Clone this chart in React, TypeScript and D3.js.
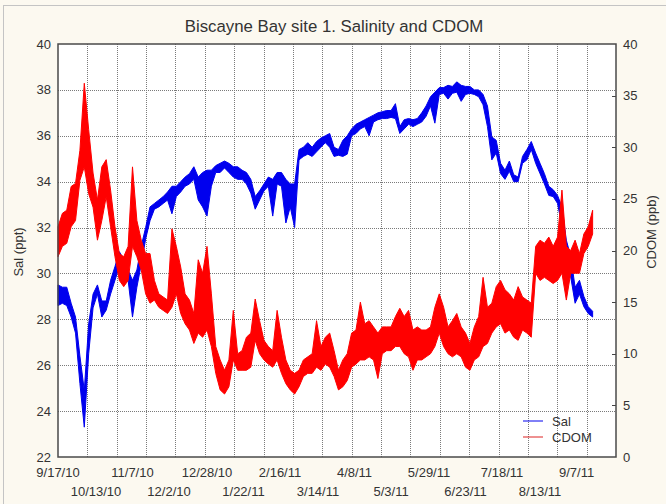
import React from 'react';
import * as d3 from 'd3';

const TITLE = 'Biscayne Bay site 1. Salinity and CDOM';
const LEFT_LABEL = 'Sal (ppt)';
const RIGHT_LABEL = 'CDOM (ppb)';
const SERIES_NAMES = ['Sal', 'CDOM'];
const X_SPAN_DAYS = 382;
const X_GRID_DIVS = 19;

const xTickLabels = [
  '9/17/10', '10/13/10', '11/7/10', '12/2/10', '12/28/10', '1/22/11', '2/16/11', '3/14/11',
  '4/8/11', '5/3/11', '5/29/11', '6/23/11', '7/18/11', '8/13/11', '9/7/11',
];
const salTicks = [22, 24, 26, 28, 30, 32, 34, 36, 38, 40];
const cdomTicks = [0, 5, 10, 15, 20, 25, 30, 35, 40];

// sample days after 9/17/10 (every 3 days)
const sampleDays = d3.range(0, 367, 3);

const salLo = [
  28.6, 28.7, 28.6, 28.1, 27.4, 25.2, 23.3, 26.5, 28.5, 29.1,
  28.1, 28.4, 29.1, 29.7, 30.3, 30.0, 29.7, 28.1, 29.4, 30.4,
  31.5, 32.3, 32.8, 32.9, 33.05, 33.2, 32.6, 33.35, 33.55, 33.8,
  33.9, 34.1, 33.2, 32.9, 32.5, 33.8, 34.4, 34.4, 34.6, 34.4,
  34.2, 34.1, 34.1, 33.9, 33.5, 32.8, 33.2, 33.6, 33.8, 32.5,
  33.9, 33.8, 32.2, 32.9, 32.0, 34.95, 35.1, 35.2, 35.1, 35.3,
  35.5, 35.7, 35.5, 35.1, 35.15, 35.1, 35.2, 36.0, 36.1, 36.3,
  36.4, 36.0, 36.6, 36.7, 36.75, 36.75, 36.8, 36.75, 36.1, 36.3,
  36.5, 36.4, 36.5, 36.6, 36.85, 37.3, 36.55, 37.8, 37.85, 37.6,
  37.85, 37.9, 37.5, 37.8, 37.85, 37.8, 37.7, 37.35, 36.4, 34.95,
  35.25, 34.35, 34.1, 34.45, 34.0, 34.0, 34.8, 34.95, 35.4, 34.8,
  34.35, 33.9, 33.4, 33.35, 33.05, 32.05, 30.3, 29.85, 28.7, 29.1,
  28.55, 28.25, 28.1,
];
const salHi = [
  29.5, 29.4, 29.4, 28.7, 28.1, 26.4, 24.9, 27.8, 29.1, 29.5,
  28.8, 28.8, 29.7, 30.3, 30.95, 30.6, 30.15, 29.7, 30.15, 31.2,
  32.0, 32.9, 33.05, 33.2, 33.35, 33.55, 33.8, 33.8, 34.0, 34.2,
  34.35, 34.65, 34.2, 34.4, 34.5, 34.5, 34.7, 34.8, 34.9, 34.8,
  34.65, 34.65, 34.5, 34.4, 34.1, 33.35, 33.6, 33.9, 34.2, 34.1,
  34.4, 34.4, 34.1, 33.9, 33.9, 35.4, 35.5, 35.7, 35.5, 35.75,
  35.9, 36.0, 36.1, 35.5, 35.4, 35.8, 36.0, 36.3, 36.5, 36.6,
  36.7, 36.8, 36.9, 37.0, 37.05, 37.1, 37.1, 37.4, 36.4, 36.7,
  36.75, 36.7, 36.75, 37.0, 37.3, 37.7, 37.9, 38.1, 38.1, 38.2,
  38.15, 38.35, 38.2, 38.15, 38.15, 38.0, 38.0, 37.8, 37.3, 35.95,
  35.8, 34.8, 34.5, 34.9, 34.3, 34.2, 35.1, 35.4, 35.75, 35.25,
  34.8, 34.35, 33.8, 33.65, 33.4, 32.9, 31.45, 30.75, 29.4, 29.7,
  29.0, 28.55, 28.35,
];
const cdomLo = [
  19.4, 20.4, 20.7, 22.3, 22.9, 26.8, 28.1, 25.5, 24.2, 21.0,
  22.9, 25.2, 22.3, 19.4, 17.1, 16.5, 17.1, 20.4, 19.4, 18.1,
  15.8, 14.9, 15.2, 14.5, 14.2, 13.9, 14.5, 15.8, 13.9, 12.9,
  12.3, 11.0, 12.0, 11.6, 12.3, 10.7, 8.1, 6.5, 6.1, 6.8,
  9.4, 8.4, 8.4, 8.4, 8.7, 11.3, 10.0, 9.4, 9.0, 8.7,
  9.4, 8.1, 7.1, 6.5, 6.1, 6.8, 7.8, 8.1, 8.1, 8.7,
  8.4, 9.0, 8.7, 7.8, 6.5, 6.8, 7.4, 8.7, 9.0, 9.4,
  9.4, 9.7, 9.4, 7.6, 10.0, 10.3, 10.3, 10.7, 10.7, 10.0,
  9.7, 8.4, 9.4, 9.4, 9.7, 10.0, 10.7, 12.0, 10.7, 10.0,
  9.7, 10.0, 9.7, 8.7, 8.4, 9.4, 9.7, 10.7, 11.0, 12.0,
  12.6, 12.9, 12.0, 12.3, 11.6, 11.3, 12.3, 12.0, 11.6, 17.8,
  17.1, 17.4, 17.1, 16.8, 17.1, 17.8, 15.2, 17.8, 17.8, 17.8,
  19.7, 20.4, 21.6,
];
const cdomHi = [
  22.3, 23.6, 23.9, 26.2, 26.5, 29.7, 36.2, 31.7, 27.5, 24.9,
  28.1, 28.8, 25.85, 22.3, 19.7, 19.4, 20.4, 28.1, 22.9, 21.0,
  19.7, 19.7, 17.1, 15.8, 15.5, 15.2, 22.1, 20.4, 18.4, 15.8,
  15.2, 13.9, 19.1, 17.8, 20.4, 15.8, 10.7, 9.4, 8.4, 9.4,
  14.2, 10.0, 10.3, 11.6, 12.0, 15.3, 13.2, 11.3, 10.7, 10.3,
  14.2, 11.6, 9.4, 8.4, 8.1, 8.4, 9.4, 9.7, 10.0, 13.2,
  10.7, 11.6, 12.0, 10.3, 8.4, 9.4, 10.0, 12.0, 12.3, 15.0,
  12.9, 13.2, 12.6, 12.0, 12.6, 12.6, 12.6, 13.6, 14.4, 13.6,
  14.2, 12.3, 12.6, 12.3, 12.3, 12.6, 14.5, 15.8, 14.5, 12.6,
  13.2, 13.9, 12.6, 12.0, 11.0, 12.6, 13.6, 17.4, 14.5, 14.9,
  16.5, 17.1, 16.2, 15.8, 15.2, 16.5, 15.5, 15.2, 14.9, 20.4,
  21.0, 20.7, 21.3, 20.4, 21.3, 25.85, 20.4, 20.0, 21.0, 19.7,
  21.6, 22.3, 23.9,
];

const W = 666;
const H = 504;
const L = 58;
const R = 616;
const T = 44;
const B = 457;

const BLUE = '#0000ee';
const RED = '#ff0000';
const TEXT = '#333333';
const FONT = '"Liberation Sans", Arial, sans-serif';

function dayOf(label: string): number {
  const [m, d, y] = label.split('/').map(Number);
  return (Date.UTC(2000 + y, m - 1, d) - Date.UTC(2010, 8, 17)) / 864e5;
}

export default function App() {
  const x = d3.scaleLinear().domain([0, X_SPAN_DAYS]).range([L, R]);
  const ySal = d3.scaleLinear().domain([22, 40]).range([B, T]);
  const yC = d3.scaleLinear().domain([0, 40]).range([B, T]);

  const idx = sampleDays.map((_, i) => i);
  const salArea = d3
    .area<number>()
    .x((i) => x(sampleDays[i]))
    .y0((i) => ySal(salLo[i]))
    .y1((i) => ySal(salHi[i]));
  const cdomArea = d3
    .area<number>()
    .x((i) => x(sampleDays[i]))
    .y0((i) => yC(cdomLo[i]))
    .y1((i) => yC(cdomHi[i]));

  const gridXs = d3.range(1, X_GRID_DIVS).map((k) => x((k * X_SPAN_DAYS) / X_GRID_DIVS));

  return (
    <svg
      width={W}
      height={H}
      style={{ position: 'absolute', left: 0, top: 0, background: '#fcf9f0' }}
      fontFamily={FONT}
    >
      <rect x={3.5} y={5.5} width={W + 10} height={H + 10} fill="#fcf9f0" stroke="#c4c4c4" />
      <text x={334} y={32} textAnchor="middle" fontSize={16.8} fill={TEXT}>
        {TITLE}
      </text>
      <rect x={L} y={T} width={R - L} height={B - T} fill="#ffffff" />
      {/* grid */}
      <g stroke="#7a7a7a" strokeWidth={1} strokeDasharray="1,1">
        {salTicks.slice(1, -1).map((v) => (
          <line key={'h' + v} x1={L} x2={R} y1={Math.round(ySal(v)) + 0.5} y2={Math.round(ySal(v)) + 0.5} />
        ))}
        {gridXs.map((gx, i) => (
          <line key={'v' + i} x1={Math.round(gx) + 0.5} x2={Math.round(gx) + 0.5} y1={T} y2={B} />
        ))}
      </g>
      {/* series */}
      <path d={salArea(idx) || ''} fill={BLUE} stroke={BLUE} strokeWidth={1} strokeLinejoin="round" />
      <path d={cdomArea(idx) || ''} fill={RED} stroke={RED} strokeWidth={1} strokeLinejoin="round" />
      {/* right ticks */}
      <g stroke="#444" strokeWidth={1}>
        {cdomTicks.slice(1, -1).map((v) => (
          <line key={'rt' + v} x1={R - 4} x2={R} y1={Math.round(yC(v)) + 0.5} y2={Math.round(yC(v)) + 0.5} />
        ))}
      </g>
      {/* frame */}
      <rect x={L} y={T} width={R - L} height={B - T} fill="none" stroke="#4a4a4a" strokeWidth={1.5} />
      {/* labels */}
      <g fontSize={13} fill={TEXT}>
        {salTicks.map((v) => (
          <text key={'l' + v} x={51} y={ySal(v)} textAnchor="end" dominantBaseline="central">
            {v}
          </text>
        ))}
        {cdomTicks.map((v) => (
          <text key={'r' + v} x={623} y={yC(v)} textAnchor="start" dominantBaseline="central">
            {v}
          </text>
        ))}
        {xTickLabels.map((lab, i) => (
          <text
            key={'x' + lab}
            x={x(dayOf(lab))}
            y={i % 2 === 0 ? 472 : 491}
            textAnchor="middle"
            dominantBaseline="central"
          >
            {lab}
          </text>
        ))}
        <text transform="translate(18,252) rotate(-90)" textAnchor="middle" dominantBaseline="central">
          {LEFT_LABEL}
        </text>
        <text transform="translate(651,232) rotate(-90)" textAnchor="middle" dominantBaseline="central">
          {RIGHT_LABEL}
        </text>
      </g>
      {/* legend */}
      <g fontSize={13} fill={TEXT}>
        <line x1={523} x2={543} y1={421} y2={421} stroke={BLUE} strokeWidth={1} />
        <text x={552} y={421} dominantBaseline="central">{SERIES_NAMES[0]}</text>
        <line x1={523} x2={543} y1={437} y2={437} stroke="#dd2222" strokeWidth={1} />
        <text x={552} y={437} dominantBaseline="central">{SERIES_NAMES[1]}</text>
      </g>
    </svg>
  );
}
